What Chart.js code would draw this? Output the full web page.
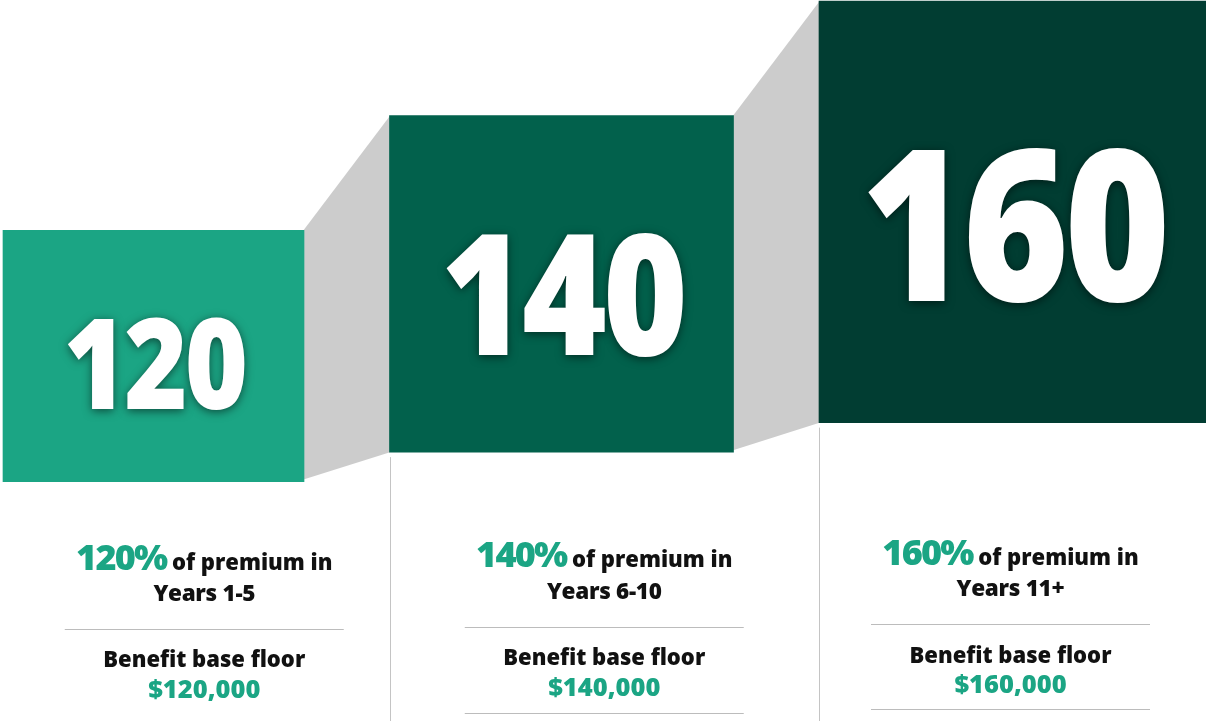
<!DOCTYPE html>
<html lang="en">
<head>
    <meta charset="UTF-8">
    <title>Benefit base floor by contract year</title>
    <style>
        html, body {
            margin: 0;
            padding: 0;
            background: #ffffff;
        }
        .wrap {
            position: relative;
            width: 1206px;
            height: 721px;
            overflow: hidden;
        }
    </style>
    <script src="https://cdn.jsdelivr.net/npm/chart.js"></script>
</head>
<body>
    <div class="wrap">
        <canvas id="floorChart"></canvas>
    </div>

    <script>
        // data
        const periods = ['Years 1-5', 'Years 6-10', 'Years 11+'];
        const premiumPct = [120, 140, 160];
        const floorAmounts = [120000, 140000, 160000];

        // look
        const boxColors = ['#1ba584', '#02614c', '#013d32'];
        const accent = '#1ba584';
        const connectorColor = '#cccccc';
        const ruleColor = '#bcbcbc';
        const numFont = '"Open Sans", "Noto Sans", sans-serif';
        const textFont = '"Open Sans", "Noto Sans", sans-serif';

        // layout of the steps (design units: x in px, y in percent)
        const X_START = 3;
        const X_GAP = 85.5;
        const boxWidth = v => 2.15 * v + 43;
        const boxBase = v => 45.2 + 0.2575 * v;

        function buildDatasets() {
            let left = X_START;
            return premiumPct.map((v, i) => {
                const w = boxWidth(v);
                const center = left + w / 2;
                left += w + X_GAP;
                return {
                    label: periods[i],
                    data: [{ x: center, y: [boxBase(v), v] }],
                    backgroundColor: boxColors[i],
                    borderWidth: 0,
                    barThickness: w,
                    grouped: false
                };
            });
        }

        function boxRect(chart, i) {
            const el = chart.getDatasetMeta(i).data[0];
            const half = el.width / 2;
            return { left: el.x - half, right: el.x + half, top: el.y, bottom: el.base, cx: el.x };
        }

        const connectors = {
            id: 'connectors',
            beforeDatasetsDraw(chart) {
                const ctx = chart.ctx;
                ctx.save();
                ctx.fillStyle = connectorColor;
                for (let i = 0; i < premiumPct.length - 1; i++) {
                    const a = boxRect(chart, i);
                    const b = boxRect(chart, i + 1);
                    ctx.beginPath();
                    ctx.moveTo(a.right - 0.5, a.top);
                    ctx.lineTo(b.left + 0.5, b.top);
                    ctx.lineTo(b.left + 0.5, b.bottom);
                    ctx.lineTo(a.right - 0.5, a.bottom - 2);
                    ctx.closePath();
                    ctx.fill();
                }
                ctx.restore();
            }
        };

        const bigNumbers = {
            id: 'bigNumbers',
            afterDatasetsDraw(chart) {
                const ctx = chart.ctx;
                premiumPct.forEach((v, i) => {
                    const r = boxRect(chart, i);
                    const h = r.bottom - r.top;
                    const size = h * 0.5;
                    ctx.save();
                    ctx.translate(r.cx + 1, r.top + h * 0.712);
                    ctx.scale(0.86, 1);
                    ctx.textAlign = 'center';
                    ctx.textBaseline = 'alphabetic';
                    ctx.fillStyle = '#ffffff';
                    ctx.font = '800 ' + size + 'px ' + numFont;
                    ctx.letterSpacing = (-size * 0.025) + 'px';
                    ctx.shadowColor = 'rgba(0, 0, 0, 0.55)';
                    ctx.shadowBlur = 10;
                    ctx.shadowOffsetY = 2;
                    ctx.fillText(String(v), 0, 0);
                    ctx.restore();
                });
            }
        };

        // captions below each step, in the column between the vertical rules
        const ROWS = { line1: 569.5, line2: 601, rule: 629, line3: 667.3, line4: 698, bottom: 716.5 };
        const ROW_DRIFT = -2.3;
        const COL_NUDGE = [8, 0, -2];
        const RULE_W = 279;

        const captions = {
            id: 'captions',
            afterDraw(chart) {
                const ctx = chart.ctx;
                const area = chart.chartArea;
                ctx.save();
                ctx.textBaseline = 'alphabetic';

                // vertical separators under steps 2 and 3
                ctx.strokeStyle = '#c4c4c4';
                ctx.lineWidth = 1;
                for (let i = 1; i < premiumPct.length; i++) {
                    const r = boxRect(chart, i);
                    ctx.beginPath();
                    ctx.moveTo(Math.round(r.left) + 0.5, r.bottom + 5);
                    ctx.lineTo(Math.round(r.left) + 0.5, area.bottom);
                    ctx.stroke();
                }

                premiumPct.forEach((v, i) => {
                    const left = boxRect(chart, i).left;
                    const right = i < premiumPct.length - 1 ? boxRect(chart, i + 1).left : area.right;
                    const cx = (left + right) / 2 + COL_NUDGE[i];
                    const dy = ROW_DRIFT * i;

                    // line 1: "120% of premium in"
                    const pctText = v + '%';
                    const restText = ' of premium in';
                    const pctFont = '800 36px ' + textFont;
                    const restFont = '800 22px ' + textFont;
                    ctx.font = pctFont;
                    ctx.letterSpacing = '-1.8px';
                    const w1 = ctx.measureText(pctText).width;
                    ctx.font = restFont;
                    ctx.letterSpacing = '0px';
                    const w2 = ctx.measureText(restText).width;
                    const x = cx - (w1 + w2) / 2;
                    ctx.textAlign = 'left';
                    ctx.font = pctFont;
                    ctx.letterSpacing = '-1.8px';
                    ctx.fillStyle = accent;
                    ctx.fillText(pctText, x, ROWS.line1 + dy);
                    ctx.font = restFont;
                    ctx.letterSpacing = '0px';
                    ctx.fillStyle = '#111111';
                    ctx.fillText(restText, x + w1, ROWS.line1 + dy);

                    // line 2: period
                    ctx.textAlign = 'center';
                    ctx.font = '800 22.5px ' + textFont;
                    ctx.letterSpacing = '-0.3px';
                    ctx.fillText(periods[i], cx, ROWS.line2 + dy);
                    ctx.letterSpacing = '0px';

                    // rules
                    ctx.strokeStyle = ruleColor;
                    ctx.lineWidth = 1;
                    ctx.beginPath();
                    ctx.moveTo(cx - RULE_W / 2, Math.round(ROWS.rule + dy) + 0.5);
                    ctx.lineTo(cx + RULE_W / 2, Math.round(ROWS.rule + dy) + 0.5);
                    if (i > 0) {
                        const yb = Math.round(ROWS.bottom + dy * 1.7) + 0.5;
                        ctx.moveTo(cx - RULE_W / 2, yb);
                        ctx.lineTo(cx + RULE_W / 2, yb);
                    }
                    ctx.stroke();

                    // floor amount
                    ctx.fillStyle = '#111111';
                    ctx.font = '800 22px ' + textFont;
                    ctx.fillText('Benefit base floor', cx, ROWS.line3 + dy);
                    ctx.fillStyle = accent;
                    ctx.font = '800 25.5px ' + textFont;
                    ctx.fillText('$' + floorAmounts[i].toLocaleString('en-US'), cx, ROWS.line4 + dy);
                });
                ctx.restore();
            }
        };

        function drawChart() {
            new Chart(document.getElementById('floorChart'), {
                type: 'bar',
                data: { datasets: buildDatasets() },
                options: {
                    responsive: true,
                    maintainAspectRatio: false,
                    animation: false,
                    layout: { padding: 0 },
                    scales: {
                        x: { type: 'linear', min: 0, max: 1206, offset: false, display: false },
                        y: { type: 'linear', min: 34.3, max: 160.2, display: false }
                    },
                    plugins: {
                        legend: { display: false },
                        tooltip: { enabled: false }
                    }
                },
                plugins: [connectors, bigNumbers, captions]
            });
        }

        Promise.all([
            document.fonts.load('800 100px "Open Sans"'),
            document.fonts.load('800 24px "Open Sans"')
        ]).catch(() => {}).then(drawChart);
    </script>
</body>
</html>
